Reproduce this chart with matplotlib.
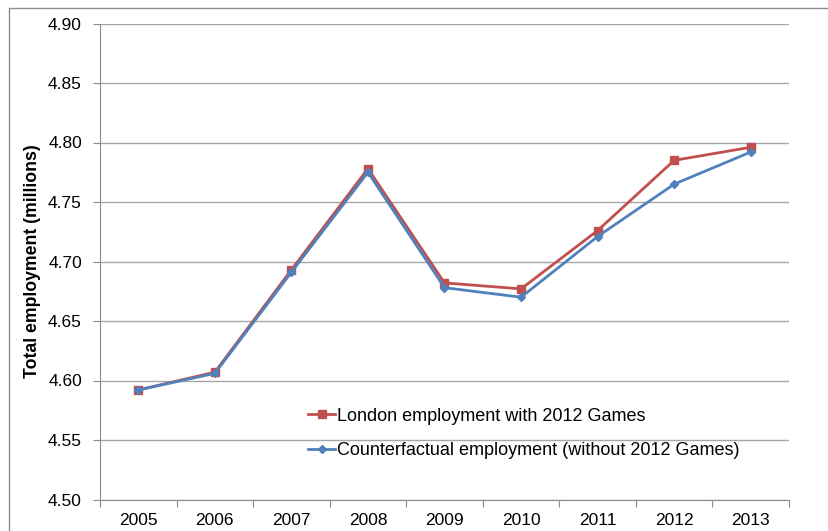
import numpy as np
import matplotlib.pyplot as plt
from matplotlib.patches import Rectangle

plt.rcParams['font.family'] = ['Liberation Sans', 'DejaVu Sans']

# Employment series (millions)
years = ['2005', '2006', '2007', '2008', '2009', '2010', '2011', '2012', '2013']
with_games = [4.592, 4.607, 4.693, 4.778, 4.682, 4.677, 4.726, 4.785, 4.796]
counterfactual = [4.592, 4.606, 4.691, 4.775, 4.678, 4.670, 4.721, 4.765, 4.792]
y_ticks = [4.50, 4.55, 4.60, 4.65, 4.70, 4.75, 4.80, 4.85, 4.90]

fig = plt.figure(figsize=(8.29, 5.31), dpi=100)
ax = fig.add_axes([100 / 829, 1 - 499.5 / 531, 689 / 829, 476 / 531])

# chart-area border
fig.patches.append(Rectangle((9 / 829, -0.1), 1.2, 1 - 8 / 531 + 0.1,
                             transform=fig.transFigure, fill=False,
                             edgecolor='#8c8c8c', linewidth=1))

x = np.arange(len(years))
ax.plot(x, with_games, color='#C0504D', linewidth=2.0, marker='s',
        markersize=6, label='London employment with 2012 Games', zorder=3)
ax.plot(x, counterfactual, color='#4F81BD', linewidth=2.0, marker='D',
        markersize=4.5, label='Counterfactual employment (without 2012 Games)', zorder=4)

ax.set_xlim(-0.5, len(years) - 0.5)
ax.set_ylim(4.50, 4.90)
ax.set_yticks(y_ticks)
ax.set_yticklabels([f'{v:.2f}' for v in y_ticks])
ax.yaxis.grid(True, color='#a6a6a6', linewidth=1)
ax.set_axisbelow(True)

# tick marks between categories, labels at the centres
ax.set_xticks(np.arange(len(years) + 1) - 0.5)
ax.set_xticklabels([])
ax.set_xticks(x, minor=True)
ax.set_xticklabels(years, minor=True)
ax.tick_params(axis='x', which='major', length=5, color='#8c8c8c', direction='out')
ax.tick_params(axis='x', which='minor', length=0, pad=10, labelsize=12.5)
ax.tick_params(axis='y', length=5, color='#8c8c8c', pad=8, labelsize=12.5)

for side in ['top', 'right']:
    ax.spines[side].set_visible(False)
for side in ['left', 'bottom']:
    ax.spines[side].set_color('#8c8c8c')

ax.set_ylabel('Total employment (millions)', fontsize=12.7, fontweight='bold', labelpad=5)

ax.legend(loc='center left', bbox_to_anchor=(0.302, 0.139), frameon=False,
          fontsize=13, handlelength=1.5, handletextpad=0.1, borderpad=0,
          borderaxespad=0, labelspacing=0.95)

fig.savefig('out.png', dpi=100)
